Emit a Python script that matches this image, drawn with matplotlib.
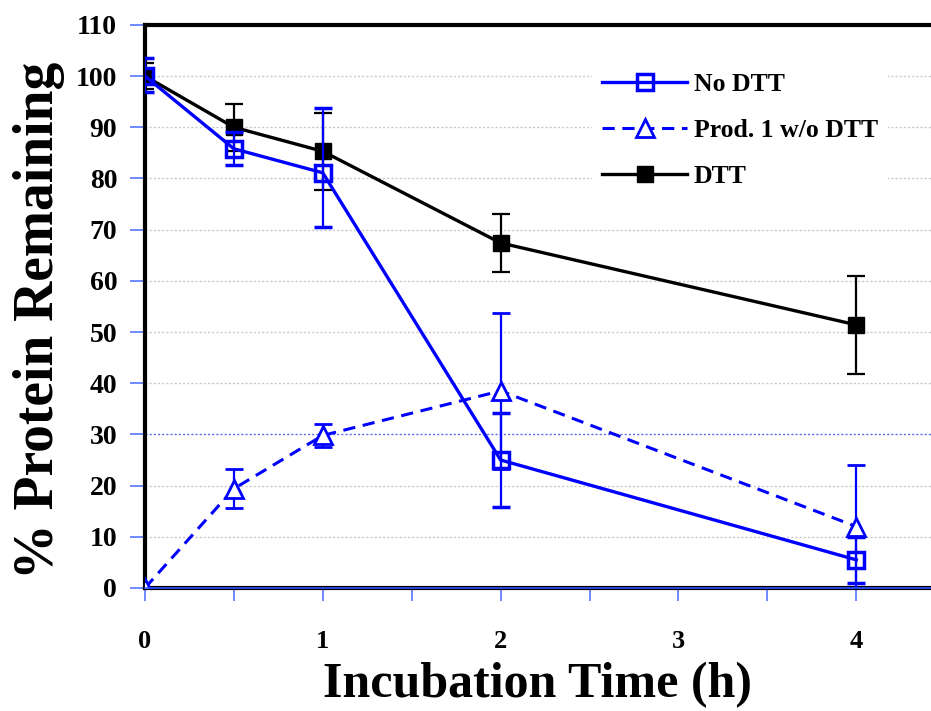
import numpy as np
import matplotlib
matplotlib.use("Agg")
import matplotlib.pyplot as plt
from matplotlib.ticker import MultipleLocator
from matplotlib.lines import Line2D

# time points (h)
time_h = [0, 0.5, 1, 2, 4]

# No DTT
no_dtt = [100, 85.8, 81.1, 25.0, 5.5]
no_dtt_lo = [3.2, 3.2, 10.5, 9.2, 4.5]
no_dtt_hi = [3.6, 3.2, 12.7, 9.2, 4.5]

# Prod. 1 w/o DTT
prod1 = [0, 19.4, 29.8, 38.5, 12.0]
prod1_err = [0, 3.8, 2.2, 15.2, 12.0]

# DTT
dtt = [100, 90.0, 85.3, 67.4, 51.4]
dtt_err = [2.5, 4.6, 7.5, 5.6, 9.6]

y_ticks = list(range(0, 111, 10))
x_ticks = [0, 1, 2, 3, 4]

serif = "Liberation Serif"
blue = "#0000ff"

fig = plt.figure(figsize=(9.31, 7.11), dpi=100)
ax = fig.add_axes([0.1557, 0.173, 0.8443, 0.792])

# grid lines (30 is blue in the original)
for v in y_ticks[1:-1]:
    c = "#5a6cf0" if v == 30 else "#c8c8c8"
    ax.axhline(v, color=c, lw=1.0, ls=(0, (1.5, 1.5)), zorder=0)

ax.errorbar(time_h, dtt, yerr=dtt_err, color="black", lw=2.4, marker="s",
            ms=12, mfc="black", mec="black", capsize=6.5, elinewidth=1.6,
            capthick=1.6, zorder=3)
ax.errorbar(time_h, prod1, yerr=prod1_err, color=blue, lw=2.2, ls=(0, (4, 2.5)),
            marker="^", ms=13.5, mfc="white", mec=blue, mew=2, capsize=6.5,
            elinewidth=1.6, capthick=1.6, zorder=4)
ax.errorbar(time_h, no_dtt, yerr=[no_dtt_lo, no_dtt_hi], color=blue, lw=2.4,
            marker="s", ms=11, mfc="none", mec=blue, mew=2.5, capsize=6.5,
            elinewidth=1.6, capthick=1.6, zorder=5)

ax.set_xlim(0, 4.42)
ax.set_ylim(0, 110)
ax.set_xticks(x_ticks)
ax.xaxis.set_minor_locator(MultipleLocator(0.5))
ax.set_yticks(y_ticks)

for s in ["left", "top", "bottom"]:
    ax.spines[s].set_linewidth(3)
    ax.spines[s].set_color("black")
ax.spines["right"].set_visible(False)
ax.axhline(0, color="#3050ff", lw=1.2, zorder=6, clip_on=False)

ax.tick_params(axis="y", direction="out", length=11, width=1.2, color="#5577ff",
               pad=9, labelsize=20)
ax.tick_params(axis="x", which="both", direction="out", length=9, width=1.2,
               color="#5577ff", pad=21, labelsize=19)
for lab in ax.get_xticklabels() + ax.get_yticklabels():
    lab.set_fontfamily(serif)
    lab.set_fontweight("bold")

ax.set_xlabel("Incubation Time (h)", fontsize=36, fontfamily=serif,
              fontweight="bold", labelpad=7)
ax.set_ylabel("% Protein Remaining", fontsize=40, fontfamily=serif,
              fontweight="bold")
ax.yaxis.set_label_coords(-0.102, 0.476)

handles = [
    Line2D([], [], color=blue, lw=2.4, marker="s", ms=11, mfc="none", mec=blue, mew=2.5),
    Line2D([], [], color=blue, lw=2.2, ls=(0, (4, 2.5)), marker="^", ms=13.5,
           mfc="white", mec=blue, mew=2),
    Line2D([], [], color="black", lw=2.4, marker="s", ms=12, mfc="black", mec="black"),
]
labels = ["No DTT", "Prod. 1 w/o DTT", "DTT"]
ax.legend(handles, labels, loc="upper left", bbox_to_anchor=(0.569, 0.932),
          borderaxespad=0, borderpad=0.4,
          prop={"family": serif, "weight": "bold", "size": 18.5},
          handlelength=3.3, handletextpad=0.25, labelspacing=0.88,
          frameon=True, framealpha=1, edgecolor="none", facecolor="white",
          fancybox=False)

fig.savefig("out.png", dpi=100)
